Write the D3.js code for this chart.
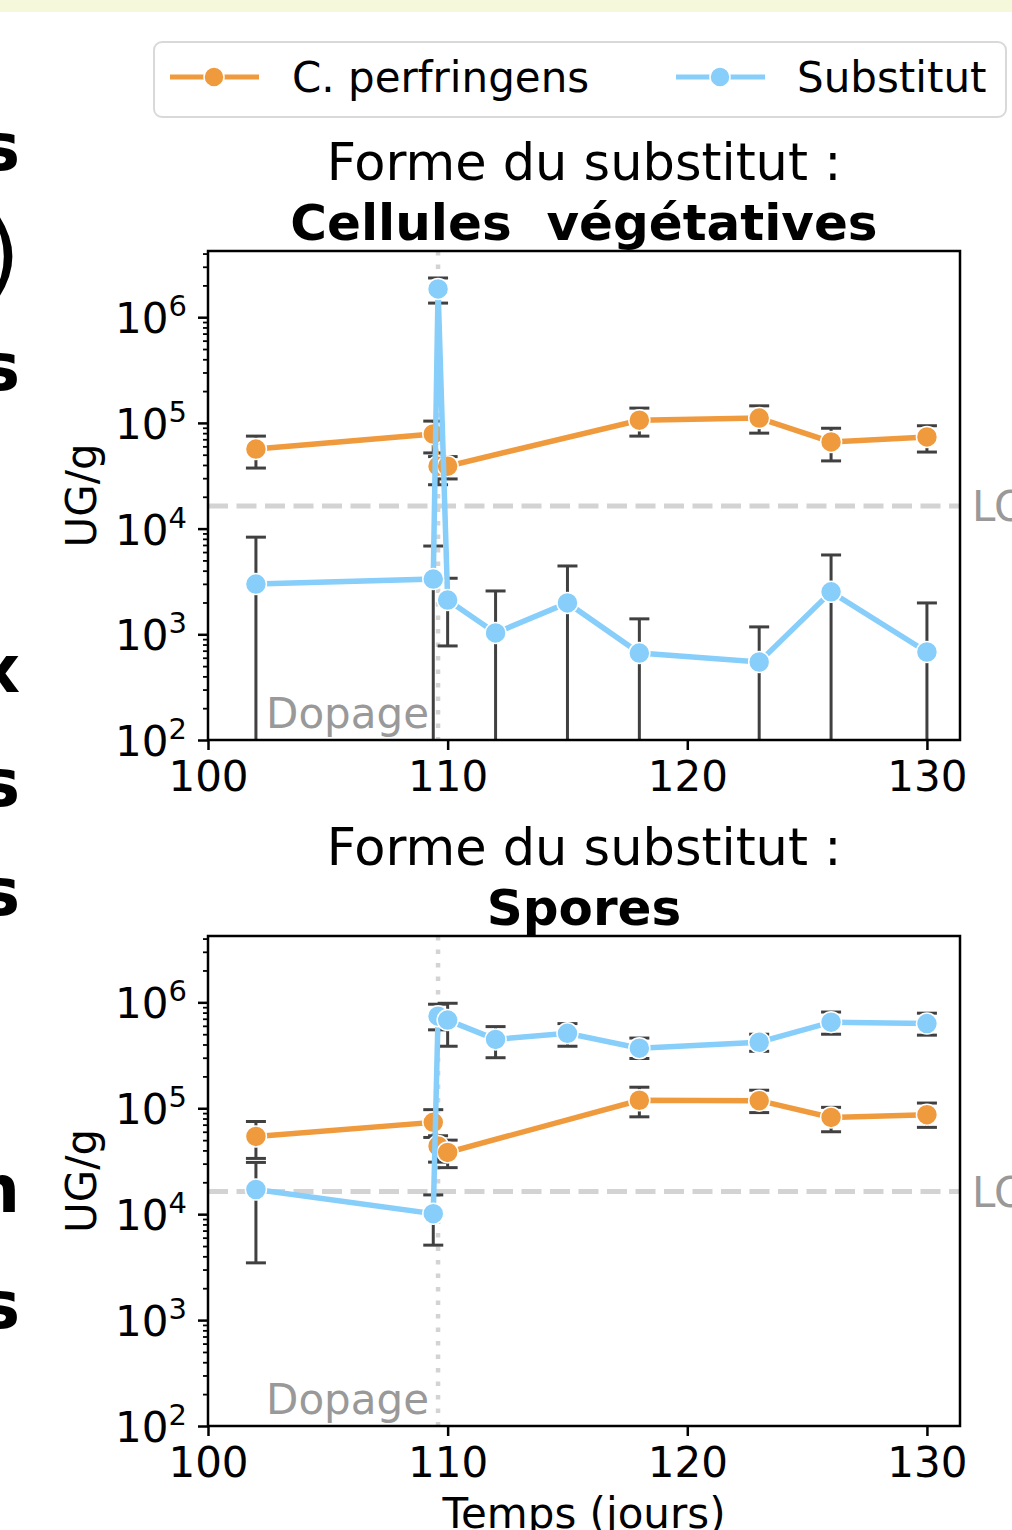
<!DOCTYPE html>
<html>
<head>
<meta charset="utf-8">
<script src="https://cdn.jsdelivr.net/npm/d3@7"></script>
<style>
    body { margin: 0; background: #fff; }
    svg { display: block; font-family: "DejaVu Sans", sans-serif; }
</style>
</head>
<body>
<div id="chart"></div>
<script>
// Sampling days (x axis).
const days = [102, 109.4, 109.6, 110, 112, 115, 118, 123, 126, 130];

// Panel 1: vegetative cells. null = no sample, 0 = lower bound below zero.
const cpVeg = [5.66e4, 7.85e4, 3.9e4, 3.9e4, null, null, 1.06e5, 1.11e5, 6.6e4, 7.36e4];
const cpVegHi = [7.5e4, 1.04e5, 4.8e4, 4.8e4, null, null, 1.38e5, 1.45e5, 8.9e4, 9.4e4];
const cpVegLo = [3.74e4, 5.2e4, 2.6e4, 2.95e4, null, null, 7.5e4, 8.0e4, 4.37e4, 5.3e4];
const subVeg = [2990, 3330, 1.85e6, 2110, 1030, 1980, 665, 547, 2520, 680];
const subVegHi = [8300, 6840, 2.35e6, 3390, 2570, 4430, 1400, 1175, 5630, 1980];
const subVegLo = [0, 0, 1.36e6, 776, 0, 0, 0, 0, 0, 0];

// Panel 2: spores.
const cpSpo = [5.42e4, 7.36e4, 4.4e4, 3.83e4, null, null, 1.19e5, 1.18e5, 8.2e4, 8.7e4];
const cpSpoHi = [7.5e4, 9.7e4, 5.5e4, 5.0e4, null, null, 1.58e5, 1.48e5, 1.02e5, 1.12e5];
const cpSpoLo = [3.36e4, 5.3e4, 3.1e4, 2.75e4, null, null, 8.3e4, 9.1e4, 6.0e4, 6.6e4];
const subSpo = [1.71e4, 1.01e4, 7.4e5, 6.8e5, 4.47e5, 5.1e5, 3.69e5, 4.2e5, 6.5e5, 6.3e5];
const subSpoHi = [3.08e4, 1.52e4, 9.6e5, 9.8e5, 5.9e5, 6.3e5, 4.6e5, 5.0e5, 8.1e5, 7.9e5];
const subSpoLo = [3470, 5100, 5.5e5, 3.85e5, 3.0e5, 3.85e5, 2.95e5, 3.45e5, 5.0e5, 4.9e5];

const loq = 1.64e4;
const dopage = 109.6;
const xTicks = [100, 110, 120, 130];
const yMajor = [1e2, 1e3, 1e4, 1e5, 1e6];
const seriesNames = ['C. perfringens', 'Substitut'];

// Cut-off letters of the neighbouring panel on the left: [text, baseline, size].
const sideLetters = [['s', 170, 66], [')', 285, 90], ['s', 390, 66], ['x', 692, 66], ['s', 806, 66], ['s', 915, 66], ['n', 1212, 66], ['s', 1328, 66]];

const orange = '#f09a3e';
const blue = '#87cefa';
const errColor = '#404040';

const width = 1012;
const height = 1530;
const svg = d3.select('#chart').append('svg')
    .attr('width', width)
    .attr('height', height);

// Strip at the very top.
svg.append('rect').attr('x', 0).attr('y', 0).attr('width', width).attr('height', 12).attr('fill', '#f6f8dc');

svg.selectAll('text.side')
    .data(sideLetters)
    .enter()
    .append('text')
        .attr('class', 'side')
        .attr('x', 20)
        .attr('y', d => d[1])
        .attr('text-anchor', 'end')
        .style('font-size', d => `${d[2]}px`)
        .style('font-weight', d => d[0] === ')' ? 'normal' : 'bold')
        .text(d => d[0]);

// Legend.
const legend = svg.append('g');
legend.append('rect')
    .attr('x', 154).attr('y', 42).attr('width', 852).attr('height', 75).attr('rx', 8)
    .attr('fill', '#fff').attr('stroke', '#d9d9d9').attr('stroke-width', 2);
[[170, orange, seriesNames[0], 292], [676, blue, seriesNames[1], 797]].forEach(([lx, c, name, tx]) => {
    legend.append('line').attr('x1', lx).attr('x2', lx + 89).attr('y1', 77).attr('y2', 77)
        .attr('stroke', c).attr('stroke-width', 5);
    legend.append('circle').attr('cx', lx + 44).attr('cy', 77).attr('r', 10)
        .attr('fill', c).attr('stroke', '#fff').attr('stroke-width', 1.5);
    legend.append('text').attr('x', tx).attr('y', 92).style('font-size', '42px').text(name);
});

const left = 208, right = 960;
const x = d3.scaleLinear().domain([100, 131.38]).range([left, right]);

let clipId = 0;
function drawPanel(top, bottom, boldTitle, series) {
    const y = d3.scaleLog().domain([100, 4.23e6]).range([bottom, top]);
    const g = svg.append('g');

    // Titles.
    g.append('text').attr('x', (left + right) / 2).attr('y', top - 71)
        .attr('text-anchor', 'middle').style('font-size', '51px').text('Forme du substitut :');
    g.append('text').attr('x', (left + right) / 2).attr('y', top - 11)
        .attr('text-anchor', 'middle').style('font-size', '50px').style('font-weight', 'bold')
        .attr('xml:space', 'preserve').text(boldTitle);

    // Y label.
    g.append('text')
        .attr('transform', `translate(96, ${(top + bottom) / 2}) rotate(-90)`)
        .attr('text-anchor', 'middle').style('font-size', '42px').text('UG/g');

    const id = 'clip' + (clipId++);
    svg.append('clipPath').attr('id', id)
        .append('rect').attr('x', left).attr('y', top).attr('width', right - left).attr('height', bottom - top);
    const plot = g.append('g').attr('clip-path', `url(#${id})`);

    // Dopage and LOQ reference lines.
    plot.append('line').attr('x1', x(dopage)).attr('x2', x(dopage)).attr('y1', top).attr('y2', bottom)
        .attr('stroke', '#d3d3d3').attr('stroke-width', 4.5).attr('stroke-dasharray', '4.5,9');
    plot.append('line').attr('x1', left).attr('x2', right).attr('y1', y(loq)).attr('y2', y(loq))
        .attr('stroke', '#d3d3d3').attr('stroke-width', 5).attr('stroke-dasharray', '20,8.5');
    g.append('text').attr('x', 429).attr('y', bottom - 12).attr('text-anchor', 'end')
        .attr('fill', '#999').style('font-size', '42px').text('Dopage');
    g.append('text').attr('x', 972).attr('y', y(loq)).attr('dy', '0.36em')
        .attr('fill', '#999').style('font-size', '42px').text('LOQ');

    // Error bars.
    series.forEach(s => {
        const pts = days.map((d, i) => ({d, v: s.v[i], hi: s.hi[i], lo: s.lo[i]})).filter(p => p.v !== null);
        pts.forEach(p => {
            const yLo = p.lo > 0 ? y(p.lo) : bottom + 5;
            plot.append('line').attr('x1', x(p.d)).attr('x2', x(p.d)).attr('y1', y(p.hi)).attr('y2', yLo)
                .attr('stroke', errColor).attr('stroke-width', 3);
            const caps = p.lo > 0 ? [p.hi, p.lo] : [p.hi];
            caps.forEach(c => {
                plot.append('line').attr('x1', x(p.d) - 10).attr('x2', x(p.d) + 10)
                    .attr('y1', y(c)).attr('y2', y(c))
                    .attr('stroke', errColor).attr('stroke-width', 3);
            });
        });
    });

    // Lines and markers.
    series.forEach(s => {
        const pts = days.map((d, i) => ({d, v: s.v[i]})).filter(p => p.v !== null);
        plot.append('path').datum(pts)
            .attr('d', d3.line().x(p => x(p.d)).y(p => y(p.v)))
            .attr('fill', 'none').attr('stroke', s.color).attr('stroke-width', 5.5);
        plot.selectAll(null).data(pts).enter().append('circle')
            .attr('cx', p => x(p.d)).attr('cy', p => y(p.v)).attr('r', 10.5)
            .attr('fill', s.color).attr('stroke', '#fff').attr('stroke-width', 1.5);
    });

    // X axis.
    const xAxis = g.append('g').attr('transform', `translate(0, ${bottom})`)
        .call(d3.axisBottom(x).tickValues(xTicks).tickSize(10).tickPadding(11));
    xAxis.select('.domain').remove();
    xAxis.selectAll('line').attr('stroke-width', 2.5);
    xAxis.selectAll('text').style('font-size', '42px').style('font-family', 'DejaVu Sans');

    // Y axis, major ticks with 10^n labels.
    const yAxis = g.append('g').attr('transform', `translate(${left}, 0)`)
        .call(d3.axisLeft(y).tickValues(yMajor).tickSize(10).tickPadding(11).tickFormat(() => ''));
    yAxis.select('.domain').remove();
    yAxis.selectAll('line').attr('stroke-width', 2.5);
    yAxis.selectAll('.tick text')
        .attr('dy', '0.37em')
        .style('font-size', '42px').style('font-family', 'DejaVu Sans')
        .each(function (d) {
            const t = d3.select(this);
            t.append('tspan').text('10');
            t.append('tspan').attr('dy', -17).style('font-size', '29px').text(Math.round(Math.log10(d)));
        });

    // Y axis, minor ticks.
    const minors = [];
    for (let e = 2; e <= 6; e++) {
        for (let m = 2; m <= 9; m++) {
            const v = m * Math.pow(10, e);
            if (v <= y.domain()[1]) minors.push(v);
        }
    }
    const yMinor = g.append('g').attr('transform', `translate(${left}, 0)`)
        .call(d3.axisLeft(y).tickValues(minors).tickSize(5).tickFormat(() => ''));
    yMinor.select('.domain').remove();
    yMinor.selectAll('line').attr('stroke-width', 1.8);

    // Spines.
    g.append('rect').attr('x', left).attr('y', top).attr('width', right - left).attr('height', bottom - top)
        .attr('fill', 'none').attr('stroke', '#000').attr('stroke-width', 2.5);
}

drawPanel(251, 740, 'Cellules  végétatives', [
    {v: cpVeg, hi: cpVegHi, lo: cpVegLo, color: orange},
    {v: subVeg, hi: subVegHi, lo: subVegLo, color: blue}
]);
drawPanel(936, 1426, 'Spores', [
    {v: cpSpo, hi: cpSpoHi, lo: cpSpoLo, color: orange},
    {v: subSpo, hi: subSpoHi, lo: subSpoLo, color: blue}
]);

// X label.
svg.append('text').attr('x', (left + right) / 2).attr('y', 1528)
    .attr('text-anchor', 'middle').style('font-size', '42px').text('Temps (jours)');
</script>
</body>
</html>
